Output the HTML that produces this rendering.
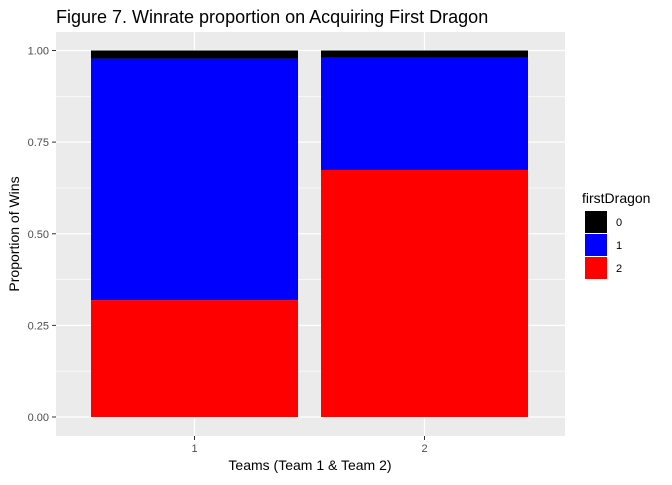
<!DOCTYPE html>
<html><head><meta charset="utf-8"><style>
body{margin:0;background:#fff;font-family:"Liberation Sans",Arial,sans-serif}
svg text{font-family:"Liberation Sans",Arial,sans-serif}
</style></head><body>
<svg id="c" width="672" height="480" xmlns="http://www.w3.org/2000/svg">
<text x="56" y="23" font-size="18" fill="#000">Figure 7. Winrate proportion on Acquiring First Dragon</text>
<rect x="56" y="32" width="509" height="404" fill="#ebebeb"/>
<g id="grid"></g><g id="bars"></g><g id="axes"></g>
<text x="310" y="470" font-size="14" text-anchor="middle" fill="#000">Teams (Team 1 &amp; Team 2)</text>
<text transform="translate(19,234) rotate(-90)" font-size="14" text-anchor="middle" fill="#000">Proportion of Wins</text>
<g>
<text x="582" y="203" font-size="14" fill="#000">firstDragon</text>
<g id="leg"></g></g>
</svg>
<script>
const categories=["1","2"];
const levels=["0","1","2"];
const colors={"0":"#000000","1":"#0000ff","2":"#ff0000"};
const share2=[0.319,0.674];
const share1=[0.659,0.307];
const share0=[0.022,0.019];
const yTicks=[0,0.25,0.5,0.75,1];
const yTickLabels=["0.00","0.25","0.50","0.75","1.00"];
const NS="http://www.w3.org/2000/svg";
const y=v=>417-v*366.5;
const x=i=>194.5+i*230;
const bw=207;
function mk(t,a,p){const e=document.createElementNS(NS,t);for(const k in a)e.setAttribute(k,a[k]);p.appendChild(e);return e;}
const grid=document.getElementById('grid'),bars=document.getElementById('bars'),axes=document.getElementById('axes'),leg=document.getElementById('leg');
for(let i=0;i<yTicks.length-1;i++){const m=(yTicks[i]+yTicks[i+1])/2;const l=mk('line',{x1:56,x2:565,y1:y(m),y2:y(m),stroke:'#fff','stroke-width':0.6},grid);

}
yTicks.forEach((t,i)=>{const l=mk('line',{x1:56,x2:565,y1:y(t),y2:y(t),stroke:'#fff','stroke-width':1.2},grid);


const tk=mk('line',{x1:52,x2:56,y1:y(t),y2:y(t),stroke:'#333'},axes);


const tx=mk('text',{x:49,y:y(t)+4,'font-size':11,'text-anchor':'end',fill:'#4d4d4d'},axes);tx.textContent=yTickLabels[i];

});
categories.forEach((c,i)=>{const l=mk('line',{x1:x(i),x2:x(i),y1:32,y2:436,stroke:'#fff','stroke-width':1.2},grid);


const tk=mk('line',{x1:x(i),x2:x(i),y1:436,y2:440,stroke:'#333'},axes);


const tx=mk('text',{x:x(i),y:452,'font-size':11,'text-anchor':'middle',fill:'#4d4d4d'},axes);tx.textContent=c;


const segs=[["2",share2[i]],["1",share1[i]],["0",share0[i]]];let base=0;
segs.forEach(([lv,v])=>{const r=mk('rect',{x:x(i)-bw/2,width:bw,y:y(base+v),height:y(base)-y(base+v),fill:colors[lv]},bars);

base+=v;});});
levels.forEach((lv,i)=>{const yy=211+i*23;const r=mk('rect',{x:585,y:yy,width:22,height:22,fill:colors[lv]},leg);


const t=mk('text',{x:616,y:yy+15,'font-size':11,fill:'#000'},leg);t.textContent=lv;

});
</script>
</body></html>
